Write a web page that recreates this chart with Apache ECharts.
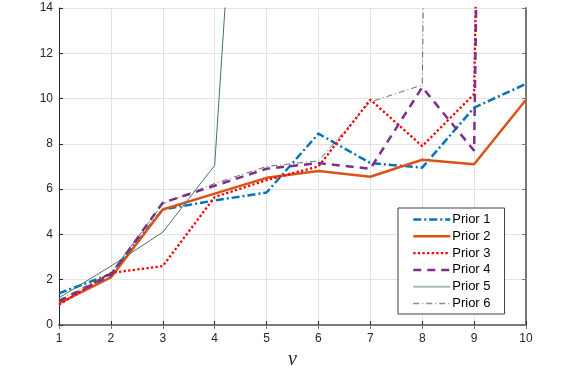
<!DOCTYPE html>
<html>
<head>
<meta charset="utf-8">
<script src="https://cdn.jsdelivr.net/npm/echarts@6/dist/echarts.min.js"></script>
<style>
  html, body { margin: 0; padding: 0; background: #fff; }
  #chart { width: 576px; height: 366px; }
</style>
</head>
<body>
<div id="chart"></div>
<script>
const nu = [1, 2, 3, 4, 5, 6, 7, 8, 9, 10];
// points far above the top are only estimates from the slope where the line leaves the plot
const prior1 = [1.4, 2.25, 5.1, 5.5, 5.85, 8.45, 7.15, 6.95, 9.6, 10.65];
const prior2 = [0.95, 2.1, 5.1, 5.8, 6.5, 6.8, 6.55, 7.3, 7.1, 9.95];
const prior3 = [0.9, 2.3, 2.6, 5.65, 6.4, 7.0, 9.95, 7.9, 10.2, 140];
const prior4 = [1.05, 2.2, 5.4, 6.15, 6.9, 7.15, 6.9, 10.5, 7.7, 170];
const prior5 = [1.2, 2.6, 4.1, 7.05, 42, null, null, null, null, null];
const prior6 = [1.1, 2.3, 5.35, 6.25, 7.0, 7.25, 9.85, 10.6, 180, null];
const yTicks = [0, 2, 4, 6, 8, 10, 12, 14];

const SERIES = [
  { name: 'Prior 1', data: prior1, color: '#0072BD', width: 2.5, type: [8, 3, 2, 3] },
  { name: 'Prior 2', data: prior2, color: '#D95319', width: 2.5, type: 'solid' },
  { name: 'Prior 3', data: prior3, color: '#FF0000', width: 2.3, type: [2.3, 2.3] },
  { name: 'Prior 4', data: prior4, color: '#7E2F8E', width: 2.5, type: [8, 6] },
  { name: 'Prior 5', data: prior5, color: '#3f7a5a', width: 1, type: 'solid', legendColor: '#a3bcaa', legendWidth: 2 },
  { name: 'Prior 6', data: prior6, color: '#444444', width: 0.8, type: [6, 3, 1, 3], legendColor: '#8c8c8c', legendWidth: 1.5 }
];

const FONT = 'Liberation Sans, Arial, sans-serif';
const AXIS_COLOR = '#262626';
const BOX_COLOR = '#7a7a7a';

const chart = echarts.init(document.getElementById('chart'));
chart.setOption({
  animation: false,
  backgroundColor: '#fff',
  grid: { left: 59, right: 50, top: 8, bottom: 41, containLabel: false, outerBoundsMode: 'none' },
  legend: {
    orient: 'vertical', left: 398, top: 208,
    padding: [5, 14, 4, 14], itemWidth: 37, itemHeight: 12, itemGap: 3.8,
    backgroundColor: '#fff', borderColor: '#404040', borderWidth: 1,
    textStyle: { fontFamily: FONT, fontSize: 13, color: '#000', padding: [0, 0, 0, -3] },
    data: SERIES.map(s => ({
      name: s.name,
      itemStyle: { color: 'transparent', borderColor: 'transparent', borderWidth: 0 },
      lineStyle: { color: s.legendColor || s.color, width: s.legendWidth || s.width, type: s.type }
    }))
  },
  xAxis: [{
    type: 'value', min: 1, max: 10, interval: 1,
    name: 'ν', nameLocation: 'middle', nameGap: 21,
    nameTextStyle: { fontFamily: 'Liberation Serif, DejaVu Serif, serif', fontStyle: 'italic', fontSize: 20, color: AXIS_COLOR },
    axisLine: { lineStyle: { color: AXIS_COLOR, width: 1 } },
    axisTick: { inside: true, length: 4, lineStyle: { color: AXIS_COLOR } },
    axisLabel: { fontFamily: FONT, fontSize: 12, color: AXIS_COLOR, margin: 8 },
    splitLine: { show: true, lineStyle: { color: '#e3e3e3', width: 1 } }
  }, {
    type: 'value', position: 'top', min: 1, max: 10, interval: 1,
    axisLine: { show: true, lineStyle: { color: BOX_COLOR, width: 2 } },
    axisTick: { show: true, inside: true, length: 4, lineStyle: { color: BOX_COLOR } },
    axisLabel: { show: false }, splitLine: { show: false }
  }],
  yAxis: [{
    type: 'value', min: 0, max: 14, interval: 2,
    axisLine: { show: true, lineStyle: { color: AXIS_COLOR, width: 1 } },
    axisTick: { show: true, inside: true, length: 4, lineStyle: { color: AXIS_COLOR } },
    axisLabel: { fontFamily: FONT, fontSize: 12, color: AXIS_COLOR, margin: 6,
      formatter: v => yTicks.includes(v) ? String(v) : '' },
    splitLine: { show: true, lineStyle: { color: '#e3e3e3', width: 1 } }
  }, {
    type: 'value', position: 'right', min: 0, max: 14, interval: 2,
    axisLine: { show: true, lineStyle: { color: BOX_COLOR, width: 2 } },
    axisTick: { show: true, inside: true, length: 4, lineStyle: { color: BOX_COLOR } },
    axisLabel: { show: false }, splitLine: { show: false }
  }],
  series: SERIES.map(s => ({
    name: s.name, type: 'line', xAxisIndex: 0, yAxisIndex: 0,
    data: s.data.map((v, i) => [nu[i], v]),
    symbol: 'none', clip: true, connectNulls: false,
    color: s.color,
    lineStyle: { color: s.color, width: s.width, type: s.type }
  }))
});
</script>
</body>
</html>
